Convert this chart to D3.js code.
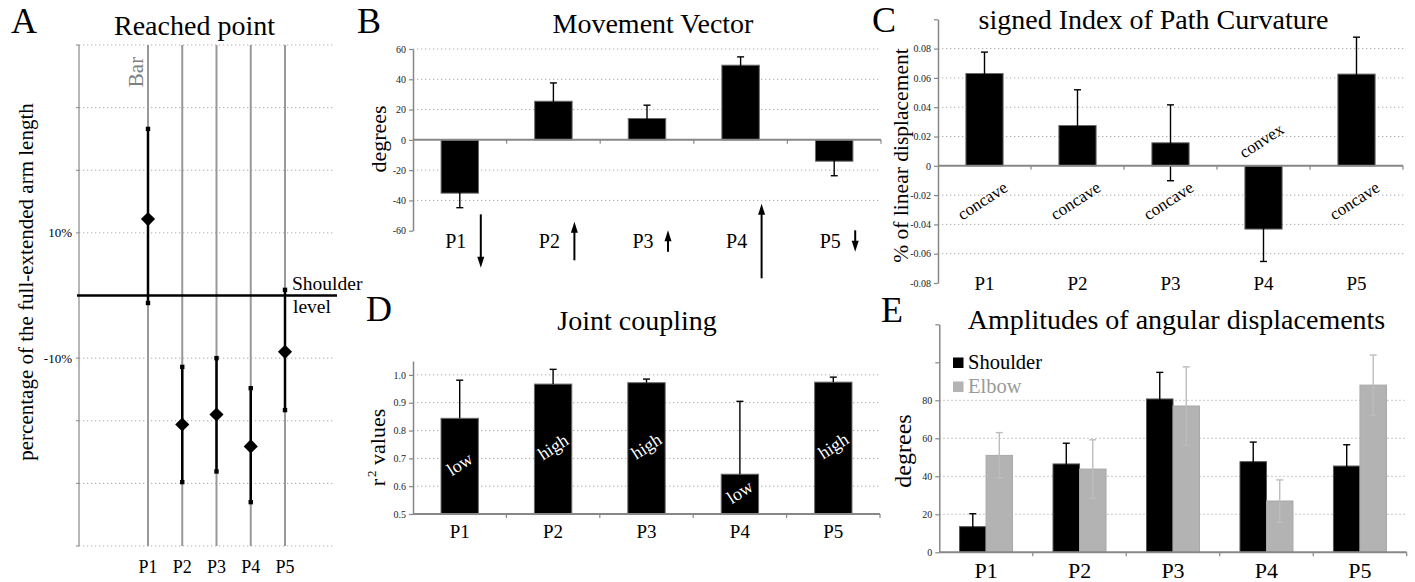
<!DOCTYPE html>
<html><head><meta charset="utf-8">
<script src="https://cdn.jsdelivr.net/npm/d3@7"></script>
<style>
body{margin:0;background:#fff}
svg{display:block}
</style>
</head><body>
<svg id="c" width="1415" height="582"></svg>
<script>
// ---------------- DATA ----------------
const categories = ["P1", "P2", "P3", "P4", "P5"];

// A: Reached point (% of full-extended arm length)
const reachMean  = [12.2, -20.6, -19.0, -24.1, -9.0];
const reachUpper = [26.6, -11.4, -10.0, -14.8, 0.9];
const reachLower = [-1.2, -29.8, -28.1, -33.0, -18.3];
const reachGrid  = [-40, -30, -20, -10, 10, 20, 30, 40];
const reachTickLabels = [10, -10];

// B: Movement Vector (degrees)
const vectorMean = [-35.2, 25.5, 14.1, 49.3, -14.1];
const vectorSD   = [9.6, 12.1, 8.8, 5.5, 9.6];
const vectorTicks = [-60, -40, -20, 0, 20, 40, 60];
const vectorGrid  = [-40, -20, 20, 40, 60];

// C: signed Index of Path Curvature
const curvMean = [0.063, 0.0275, 0.0157, -0.0432, 0.0626];
const curvSD   = [0.0146, 0.0244, 0.0259, 0.0221, 0.0252];
const curvLabels = ["concave", "concave", "concave", "convex", "concave"];
const curvTicks = [-0.08, -0.06, -0.04, -0.02, 0, 0.02, 0.04, 0.06, 0.08, 0.1];
const curvGrid  = [-0.06, -0.04, -0.02, 0.02, 0.04, 0.06, 0.08];

// D: Joint coupling (r^2)
const couplingMean = [0.844, 0.967, 0.972, 0.643, 0.974];
const couplingSD   = [0.137, 0.053, 0.013, 0.262, 0.018];
const couplingLabels = ["low", "high", "high", "low", "high"];
const couplingTicks = [0.5, 0.6, 0.7, 0.8, 0.9, 1.0];
const couplingGrid  = [0.6, 0.7, 0.8, 0.9, 1.0];

// E: Amplitudes of angular displacements (degrees)
const seriesNames = ["Shoulder", "Elbow"];
const shoulderAmp = [13.5, 46.5, 80.7, 47.7, 45.4];
const shoulderSD  = [6.8, 10.9, 14.0, 10.3, 11.2];
const elbowAmp    = [51.0, 43.8, 77.0, 27.0, 88.0];
const elbowSD     = [12.0, 15.4, 20.6, 11.1, 15.8];
const ampTicks = [0, 20, 40, 60, 80, 100, 120];
const ampGrid  = [20, 40, 60, 80];

// ---------------- STYLE ----------------
const serif = '"Liberation Serif","Times New Roman",serif';
const AXIS = "#878787", GRID = "#ababab";
const svg = d3.select("#c");

function txt(g, x, y, s, size, opts = {}) {
  const t = g.append("text").attr("x", x).attr("y", y).text(s)
    .attr("font-family", serif).attr("font-size", size)
    .attr("fill", opts.fill || "#000")
    .attr("text-anchor", opts.anchor || "start");
  if (opts.rotate !== undefined) t.attr("transform", `rotate(${opts.rotate},${x},${y})`);
  if (opts.baseline) t.attr("dominant-baseline", opts.baseline);
  return t;
}

function yAxis(g, scale, x, ticks, fmt, size = 10) {
  const ax = d3.axisLeft(scale).tickValues(ticks).tickFormat(fmt)
    .tickSize(4).tickSizeOuter(0).tickPadding(3);
  const gg = g.append("g").attr("transform", `translate(${x},0)`).call(ax);
  gg.select(".domain").attr("stroke", AXIS).attr("stroke-width", 1.5);
  gg.selectAll(".tick line").attr("stroke", AXIS).attr("stroke-width", 1.2);
  gg.selectAll(".tick text").attr("font-family", serif).attr("font-size", size).attr("fill", "#222");
  return gg;
}

function grid(g, scale, x0, x1, vals) {
  g.append("g").selectAll("line").data(vals).join("line")
    .attr("x1", x0).attr("x2", x1)
    .attr("y1", d => scale(d)).attr("y2", d => scale(d))
    .attr("stroke", GRID).attr("stroke-width", 1).attr("stroke-dasharray", "1.3,2.7");
}

function xBaseline(g, xs, y) {
  const [x0, x1] = xs.range();
  g.append("line").attr("x1", x0).attr("x2", x1).attr("y1", y).attr("y2", y)
    .attr("stroke", AXIS).attr("stroke-width", 2);
  const step = xs.step();
  g.append("g").selectAll("line").data(d3.range(1, categories.length + 1)).join("line")
    .attr("x1", i => x0 + i * step).attr("x2", i => x0 + i * step)
    .attr("y1", y).attr("y2", y + 4).attr("stroke", AXIS).attr("stroke-width", 1.2);
}

function errBars(g, xs, ys, means, sds, color, twoSided, xoff = 0) {
  const data = means.map((m, i) => ({c: categories[i], m, s: sds[i]}));
  const cx = d => xs(d.c) + xs.bandwidth() / 2 + xoff;
  const hi = d => twoSided ? d.m + d.s : (d.m >= 0 ? d.m + d.s : d.m - d.s);
  const lo = d => twoSided ? d.m - d.s : d.m;
  const eg = g.append("g").attr("stroke", color).attr("stroke-width", 1.4);
  eg.selectAll("line.v").data(data).join("line").attr("class", "v")
    .attr("x1", cx).attr("x2", cx).attr("y1", d => ys(lo(d))).attr("y2", d => ys(hi(d)));
  eg.selectAll("line.h").data(data).join("line").attr("class", "h")
    .attr("x1", d => cx(d) - 3.5).attr("x2", d => cx(d) + 3.5)
    .attr("y1", d => ys(hi(d))).attr("y2", d => ys(hi(d)));
  if (twoSided) {
    eg.selectAll("line.l").data(data).join("line").attr("class", "l")
      .attr("x1", d => cx(d) - 3.5).attr("x2", d => cx(d) + 3.5)
      .attr("y1", d => ys(lo(d))).attr("y2", d => ys(lo(d)));
  }
}

function bars(g, xs, ys, means, base, fill, stroke, xsub) {
  g.append("g").selectAll("rect").data(means.map((m, i) => ({c: categories[i], m}))).join("rect")
    .attr("x", d => xs(d.c) + (xsub ? xsub.x : 0))
    .attr("width", xsub ? xsub.w : xs.bandwidth())
    .attr("y", d => Math.min(ys(d.m), ys(base)))
    .attr("height", d => Math.abs(ys(d.m) - ys(base)))
    .attr("fill", fill).attr("stroke", stroke).attr("stroke-width", 1);
}

// ================= PANEL A =================
(function () {
  const g = svg.append("g");
  const y = d3.scaleLinear().domain([-40, 40]).range([546, 45]);
  const x = d3.scalePoint().domain(categories).range([148, 285]);
  const ax0 = 79, ax1 = 333;
  grid(g, y, ax0, ax1, reachGrid);
  // left axis
  g.append("line").attr("x1", ax0).attr("x2", ax0).attr("y1", y(40)).attr("y2", y(-40))
    .attr("stroke", AXIS).attr("stroke-width", 1.2);
  g.append("g").selectAll("line").data(reachGrid).join("line")
    .attr("x1", ax0 - 3).attr("x2", ax0).attr("y1", d => y(d)).attr("y2", d => y(d))
    .attr("stroke", AXIS).attr("stroke-width", 1);
  reachTickLabels.forEach(v => txt(g, 72, y(v), (v > 0 ? "" : "-") + Math.abs(v) + "%", 13,
    {anchor: "end", baseline: "central"}));
  // vertical category lines
  g.append("g").selectAll("line").data(categories).join("line")
    .attr("x1", d => x(d)).attr("x2", d => x(d)).attr("y1", y(40)).attr("y2", y(-40))
    .attr("stroke", "#999").attr("stroke-width", 2);
  // shoulder level line
  g.append("line").attr("x1", 77).attr("x2", 337).attr("y1", y(0)).attr("y2", y(0))
    .attr("stroke", "#000").attr("stroke-width", 2.6);
  const data = categories.map((c, i) => ({c, m: reachMean[i], u: reachUpper[i], l: reachLower[i]}));
  g.append("g").selectAll("line").data(data).join("line")
    .attr("x1", d => x(d.c)).attr("x2", d => x(d.c)).attr("y1", d => y(d.u)).attr("y2", d => y(d.l))
    .attr("stroke", "#000").attr("stroke-width", 2.5);
  const ends = data.flatMap(d => [{c: d.c, v: d.u}, {c: d.c, v: d.l}]);
  g.append("g").selectAll("rect").data(ends).join("rect")
    .attr("x", d => x(d.c) - 2.2).attr("y", d => y(d.v) - 2.2).attr("width", 4.4).attr("height", 4.4)
    .attr("fill", "#000");
  g.append("g").selectAll("path").data(data).join("path")
    .attr("d", d3.symbol(d3.symbolSquare, 100))
    .attr("transform", d => `translate(${x(d.c)},${y(d.m)}) rotate(45)`)
    .attr("fill", "#000");
  // annotations
  txt(g, 143, 72, "Bar", 21, {anchor: "middle", rotate: -90, fill: "#808080"});
  txt(g, 292, 290, "Shoulder", 19.5);
  txt(g, 293, 313, "level", 19.5);
  categories.forEach(c => txt(g, x(c), 573, c, 18, {anchor: "middle"}));
  txt(g, 33, 282, "percentage of the full-extended arm length", 21, {anchor: "middle", rotate: -90});
  txt(g, 194.5, 35, "Reached point", 28, {anchor: "middle"});
  txt(g, 11, 33, "A", 36);
})();

// ================= PANEL B =================
(function () {
  const g = svg.append("g");
  const x = d3.scaleBand().domain(categories).range([413, 881]).paddingInner(0.6).paddingOuter(0.3);
  const y = d3.scaleLinear().domain([-60, 60]).range([230.7, 49]);
  grid(g, y, 413, 881, vectorGrid);
  yAxis(g, y, 413, vectorTicks, d => String(d));
  bars(g, x, y, vectorMean, 0, "#000", "#6a6a6a");
  errBars(g, x, y, vectorMean, vectorSD, "#000", true);
  xBaseline(g, x, y(0));
  // labels and direction arrows
  const midY = 241;
  categories.forEach((c, i) => {
    const cx = x(c) + x.bandwidth() / 2;
    txt(g, cx - 4, 248, c, 20, {anchor: "middle"});
    const len = Math.abs(y(vectorMean[i]) - y(0));
    const dir = vectorMean[i] >= 0 ? -1 : 1;
    const ax = cx + 21;
    const tail = midY - dir * len / 2, head = midY + dir * len / 2;
    g.append("line").attr("x1", ax).attr("x2", ax).attr("y1", tail).attr("y2", head - dir * 6)
      .attr("stroke", "#000").attr("stroke-width", 2);
    g.append("path")
      .attr("d", `M${ax},${head} L${ax - 3.5},${head - dir * 11} L${ax + 3.5},${head - dir * 11} Z`)
      .attr("fill", "#000");
  });
  txt(g, 386, 139, "degrees", 22, {anchor: "middle", rotate: -90});
  txt(g, 653, 33, "Movement Vector", 28, {anchor: "middle"});
  txt(g, 357, 33, "B", 36);
})();

// ================= PANEL C =================
(function () {
  const g = svg.append("g");
  const x = d3.scaleBand().domain(categories).range([938, 1403]).paddingInner(0.6).paddingOuter(0.3);
  const y = d3.scaleLinear().domain([-0.08, 0.1]).range([283, 19.3]);
  grid(g, y, 938, 1406, curvGrid);
  yAxis(g, y, 938, curvTicks, d => (Math.abs(d - 0.1) < 1e-9 ? "" : (d === 0 ? "0" : (d < 0 ? "-" : "") + Math.abs(d).toFixed(2))));
  bars(g, x, y, curvMean, 0, "#000", "#6a6a6a");
  errBars(g, x, y, curvMean, curvSD, "#000", true);
  xBaseline(g, x, y(0));
  categories.forEach((c, i) => {
    const cx = x(c) + x.bandwidth() / 2;
    txt(g, cx, 290, c, 19, {anchor: "middle"});
    const ly = curvLabels[i] === "convex" ? y(0.017) : y(-0.024);
    txt(g, cx - 2, ly, curvLabels[i], 17, {anchor: "middle", baseline: "central", rotate: -33});
  });
  txt(g, 908, 155.5, "% of linear displacement", 21.5, {anchor: "middle", rotate: -90});
  txt(g, 1153.5, 29, "signed Index of Path Curvature", 28, {anchor: "middle"});
  txt(g, 872, 32, "C", 36);
})();

// ================= PANEL D =================
(function () {
  const g = svg.append("g");
  const x = d3.scaleBand().domain(categories).range([413, 880]).paddingInner(0.6).paddingOuter(0.3);
  const y = d3.scaleLinear().domain([0.5, 1.05]).range([514, 361]);
  grid(g, y, 413, 880, couplingGrid);
  yAxis(g, y, 413, couplingTicks, d3.format(".1f"));
  bars(g, x, y, couplingMean, 0.5, "#000", "#6a6a6a");
  errBars(g, x, y, couplingMean, couplingSD, "#000", false);
  xBaseline(g, x, y(0.5));
  categories.forEach((c, i) => {
    const cx = x(c) + x.bandwidth() / 2;
    txt(g, cx, 538, c, 19, {anchor: "middle"});
    const ly = (y(couplingMean[i]) + y(0.5)) / 2 - 2;
    txt(g, cx, ly, couplingLabels[i], 18, {anchor: "middle", baseline: "central", rotate: -33, fill: "#fff"});
  });
  const yl = g.append("text").attr("x", 385).attr("y", 447.5)
    .attr("font-family", serif).attr("font-size", 22).attr("text-anchor", "middle")
    .attr("transform", "rotate(-90,385,447.5)");
  yl.append("tspan").text("r");
  yl.append("tspan").text("2").attr("font-size", 13).attr("dy", -9).attr("dx", 2);
  yl.append("tspan").text(" values").attr("dy", 9);
  txt(g, 637, 330, "Joint coupling", 28, {anchor: "middle"});
  txt(g, 366, 321, "D", 36);
})();

// ================= PANEL E =================
(function () {
  const g = svg.append("g");
  const x = d3.scaleBand().domain(categories).range([939.3, 1406.7]).padding(0);
  const xs = d3.scaleBand().domain(seriesNames).range([0, x.step()]).paddingInner(0).paddingOuter(0.764);
  const y = d3.scaleLinear().domain([0, 120]).range([552.3, 324.3]);
  grid(g, y, 939.3, 1406.7, ampGrid);
  yAxis(g, y, 939.3, ampTicks, d => (d <= 80 ? String(d) : ""));
  const colors = {Shoulder: "#000", Elbow: "#b3b3b3"};
  const strokes = {Shoulder: "#555", Elbow: "#a8a8a8"};
  const errColors = {Shoulder: "#000", Elbow: "#bdbdbd"};
  const vals = {Shoulder: shoulderAmp, Elbow: elbowAmp};
  const sds = {Shoulder: shoulderSD, Elbow: elbowSD};
  seriesNames.forEach(s => {
    bars(g, x, y, vals[s], 0, colors[s], strokes[s], {x: xs(s), w: xs.bandwidth()});
  });
  const xw = {bandwidth: () => xs.bandwidth()};
  seriesNames.forEach(s => {
    const fx = Object.assign(c => x(c) + xs(s), {bandwidth: () => xs.bandwidth()});
    errBars(g, fx, y, vals[s], sds[s], errColors[s], true);
  });
  xBaseline(g, x, y(0));
  categories.forEach(c => txt(g, x(c) + x.bandwidth() / 2, 578, c, 22, {anchor: "middle"}));
  // legend
  seriesNames.forEach((s, i) => {
    g.append("rect").attr("x", 953).attr("y", 357.5 + i * 24).attr("width", 10.5).attr("height", 10.5)
      .attr("fill", colors[s]);
    txt(g, 968, 368.5 + i * 24, s, 20.5, {fill: s === "Elbow" ? "#9a9a9a" : "#000"});
  });
  txt(g, 911, 451, "degrees", 24, {anchor: "middle", rotate: -90});
  txt(g, 1176.5, 328.5, "Amplitudes of angular displacements", 28, {anchor: "middle"});
  txt(g, 881, 321.5, "E", 36);
})();
</script>
</body></html>
